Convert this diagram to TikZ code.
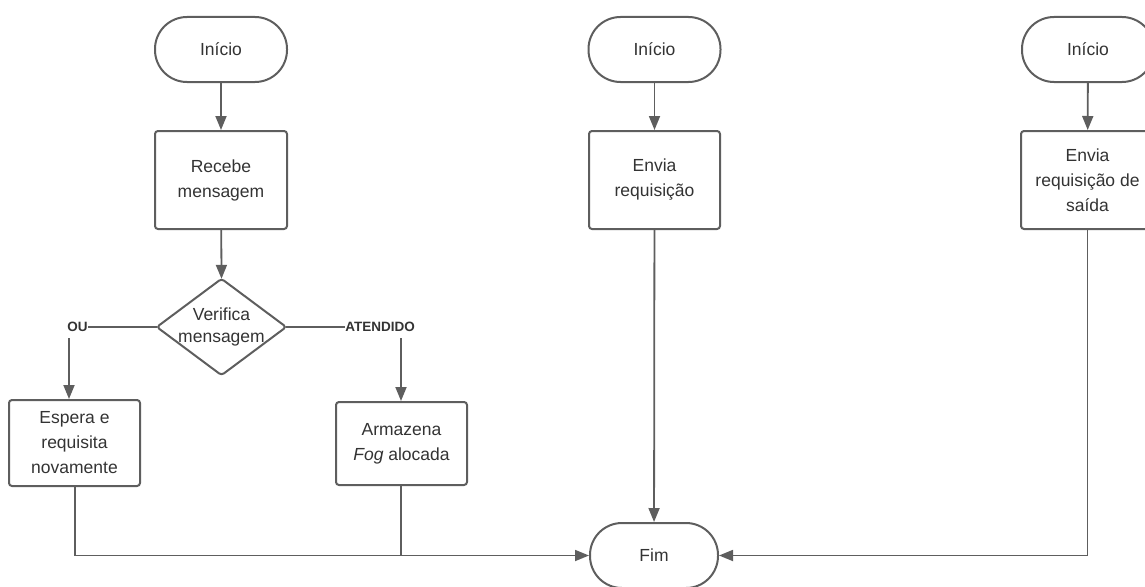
\documentclass[tikz,border=0pt]{standalone}
\usepackage{fontspec}
\setmainfont{Liberation Sans}
\usetikzlibrary{arrows.meta}
\definecolor{linegray}{HTML}{5E5E5E}
\definecolor{textgray}{HTML}{333333}
\begin{document}
\begin{tikzpicture}[x=1pt,y=-1pt,
  every node/.style={text=textgray, font=\fontsize{17.5}{25}\selectfont},
  terminal/.style={draw=linegray, line width=2pt, minimum width=132pt, minimum height=65pt, rounded corners=32pt, inner sep=0pt},
  process/.style={draw=linegray, line width=2pt, rounded corners=3pt, align=center, inner sep=0pt},
  decisionbox/.style={minimum width=129pt, minimum height=96pt, inner sep=0pt, align=center, font=\fontsize{17.5}{22}\selectfont},
  branch/.style={font=\bfseries\fontsize{13.5}{16}\selectfont, inner sep=0pt},
  link/.style={draw=linegray, line width=1.8pt},
  flow/.style={link, -{Triangle[length=14pt,width=11pt]}}
]
\useasboundingbox (0,0) rectangle (1145,586);

% left column
\node[terminal] (s1) at (221,49.5) {Início};
\node[process, minimum width=132pt, minimum height=98pt] (recv) at (221,180) {Recebe\\mensagem};
\node[decisionbox] (chk) at (221.5,327) {Verifica\\mensagem};
\draw[linegray, line width=2pt, rounded corners=3pt]
  (chk.north) -- (chk.east) -- (chk.south) -- (chk.west) -- cycle;
\node[branch] (ou) at (77.5,327) {OU};
\node[branch] (ok) at (380,327) {ATENDIDO};
\node[process, minimum width=131pt, minimum height=86pt] (wait) at (74.5,443) {Espera e\\requisita\\novamente};
\node[process, minimum width=131pt, minimum height=83pt] (store) at (401.5,443.5) {Armazena\\\textit{Fog} alocada};

% middle column
\node[terminal] (s2) at (654.5,49.5) {Início};
\node[process, minimum width=131pt, minimum height=98pt] (send) at (654.5,180) {Envia\\requisição};
\node[terminal, minimum width=128pt] (end) at (654,555.5) {Fim};

% right column
\node[terminal] (s3) at (1088,49.5) {Início};
\node[process, minimum width=133pt, minimum height=98pt] (exit) at (1087.5,180) {Envia\\requisição de\\saída};

% connectors
\draw[flow] (s1) -- (recv);
\draw[flow] (recv) -- (chk.north);
\draw[link] (chk.west) -- (ou.east);
\draw[link] (chk.east) -- (ok.west);
\draw[flow] (69,338) -- (wait.north -| 69,0);
\draw[flow] (401,338) -- (store.north -| 401,0);
\draw[link] (wait.south -| 75,0) -- (75,555.5) -- (401,555.5);
\draw[flow] (store.south -| 401,0) -- (401,555.5) -- (end.west);
\draw[flow] (s2) -- (send);
\draw[flow] (send) -- (end);
\draw[flow] (s3) -- (exit);
\draw[flow] (exit.south) |- (end.east);
\end{tikzpicture}
\end{document}
